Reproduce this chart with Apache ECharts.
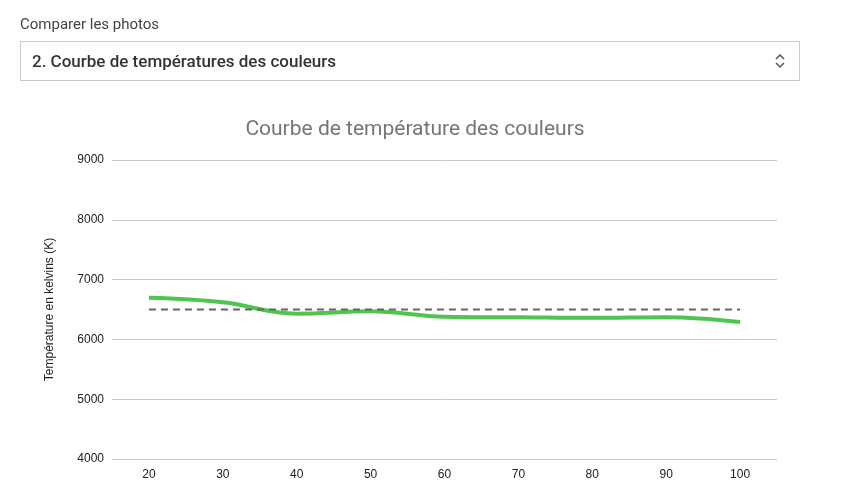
<!DOCTYPE html>
<html lang="fr">
<head>
<meta charset="utf-8">
<title>Courbe de température des couleurs</title>
<script src="https://cdn.jsdelivr.net/npm/echarts@6/dist/echarts.min.js"></script>
<style>
  body { margin: 0; font-family: Roboto, "Noto Sans", sans-serif; background: #fff; }
  #label { position: absolute; left: 20px; top: 15px; font-size: 15px; color: #444; }
  #select { position: absolute; left: 20px; top: 41px; width: 778px; height: 38px; border: 1px solid #ccc; box-sizing: content-box; }
  #select span { position: absolute; left: 11px; top: 9px; font-size: 17px; font-weight: 500; color: #333; }
  #select svg { position: absolute; right: 13px; top: 11px; }
  #chart { position: absolute; left: 0; top: 0; width: 849px; height: 489px; }
</style>
</head>
<body>
<div id="chart"></div>
<div id="label">Comparer les photos</div>
<div id="select"><span>2. Courbe de températures des couleurs</span>
  <svg width="12" height="16" viewBox="0 0 12 16"><path d="M2 6 L6 2 L10 6 M2 10 L6 14 L10 10" fill="none" stroke="#555" stroke-width="1.5"/></svg>
</div>
<script type="text/javascript">
  var categories = ['20', '30', '40', '50', '60', '70', '80', '90', '100'];
  var mesure = [6695, 6620, 6430, 6470, 6380, 6370, 6360, 6370, 6290];
  var reference = [6500, 6500, 6500, 6500, 6500, 6500, 6500, 6500, 6500];

  var chart = echarts.init(document.getElementById('chart'));
  chart.setOption({
    animation: false,
    title: {
      text: 'Courbe de température des couleurs',
      left: 410, top: 114, textAlign: 'center',
      textStyle: { fontFamily: 'Roboto', fontSize: 21, fontWeight: 'normal', color: '#757575' }
    },
    grid: { left: 112, right: 72, top: 160, bottom: 30 },
    xAxis: {
      type: 'category', data: categories, boundaryGap: true,
      axisLine: { show: false }, axisTick: { show: false },
      axisLabel: { color: '#222', fontSize: 12, fontFamily: 'Liberation Sans', margin: 10 }
    },
    yAxis: {
      type: 'value', min: 4000, max: 9000, interval: 1000,
      name: 'Température en kelvins (K)', nameLocation: 'middle', nameGap: 56,
      nameTextStyle: { color: '#222', fontSize: 12, fontFamily: 'Liberation Sans' },
      axisLabel: { color: '#222', fontSize: 12, fontFamily: 'Liberation Sans', margin: 8,
        formatter: function (v) { return String(v); } },
      splitLine: { lineStyle: { color: '#ccc' } }
    },
    series: [{
      name: 'Mesure', type: 'line', data: mesure, smooth: 0.4, symbol: 'none',
      lineStyle: { color: '#4cc64c', width: 4 }, z: 2
    }, {
      name: 'Référence', type: 'line', data: reference, symbol: 'none',
      lineStyle: { color: '#666', width: 2, type: [7, 5] }, z: 3
    }]
  });
</script>
</body>
</html>
